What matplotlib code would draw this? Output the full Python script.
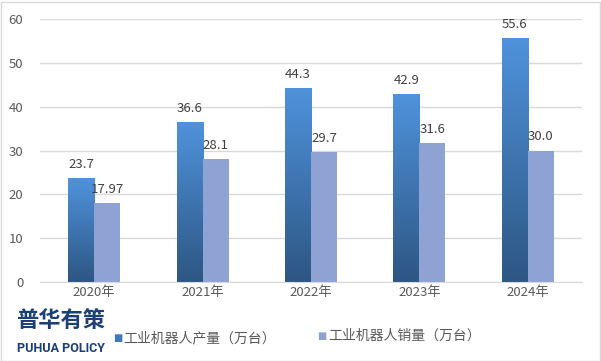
import numpy as np
import matplotlib
matplotlib.use("Agg")
from matplotlib import pyplot as plt
from matplotlib.colors import LinearSegmentedColormap
from matplotlib.patches import Rectangle

plt.rcParams["font.family"] = ["Noto Sans CJK SC", "DejaVu Sans"]

years = ["2020年", "2021年", "2022年", "2023年", "2024年"]
production = [23.7, 36.6, 44.3, 42.9, 55.6]
sales = [17.97, 28.1, 29.7, 31.6, 30.0]
production_labels = ["23.7", "36.6", "44.3", "42.9", "55.6"]
sales_labels = ["17.97", "28.1", "29.7", "31.6", "30.0"]

fig = plt.figure(figsize=(6.01, 3.61), dpi=100)
ax = fig.add_axes([40 / 601, 1 - 282 / 361, 542 / 601, 263 / 361])

width = 0.24
x = np.arange(len(years))
grad = LinearSegmentedColormap.from_list("blue", ["#2d5683", "#4f93dc"])
gradient = np.linspace(0, 1, 256).reshape(-1, 1)

for i, (p, s) in enumerate(zip(production, sales)):
    x0 = x[i] - width
    im = ax.imshow(gradient, cmap=grad, origin="lower", aspect="auto",
                   extent=(x0, x0 + width, 0, p), zorder=2)
    im.set_clip_path(Rectangle((x0, 0), width, p, transform=ax.transData))
    ax.bar(x[i] + width / 2, s, width, color="#8ea3d3", zorder=2)
    ax.text(x[i] - width / 2, p + 1.6, production_labels[i], ha="center",
            va="bottom", fontsize=9.5, color="#404040")
    ax.text(x[i] + width / 2, s + 1.6, sales_labels[i], ha="center",
            va="bottom", fontsize=9.5, color="#404040")

ax.set_xlim(-0.5, len(years) - 0.5)
ax.set_ylim(0, 60)
ax.set_yticks(range(0, 61, 10))
ax.set_xticks(x)
ax.set_xticklabels(years)
ax.tick_params(length=0, labelsize=9.5, colors="#595959")
ax.tick_params(axis="y", pad=12)
ax.tick_params(axis="x", pad=3)
ax.grid(axis="y", color="#d9d9d9", linewidth=1)
ax.set_axisbelow(True)
for side in ["top", "right", "left"]:
    ax.spines[side].set_visible(False)
ax.spines["bottom"].set_color("#d9d9d9")

# legend
fig.text(113 / 601, 1 - 338 / 361, "■", color="#3f78b8", fontsize=7, va="center",
         family=["DejaVu Sans"])
fig.text(123 / 601, 1 - 338 / 361, "工业机器人产量（万台）", fontsize=10, va="center",
         color="#595959")
fig.text(317 / 601, 1 - 336 / 361, "■", color="#8ea3d3", fontsize=7, va="center",
         family=["DejaVu Sans"])
fig.text(328 / 601, 1 - 336 / 361, "工业机器人销量（万台）", fontsize=10, va="center",
         color="#595959")

# logo
fig.text(16 / 601, 1 - 320 / 361, "普华有策", fontsize=16, fontweight="heavy",
         color="#1c3f75", va="center")
fig.text(17 / 601, 1 - 349 / 361, "PUHUA POLICY", fontsize=9, color="#1c3f75",
         va="center", family=["Roboto"], fontweight="bold")

fig.patches.append(Rectangle((0.5 / 601, 0.5 / 361), 599 / 601, 359 / 361,
                             transform=fig.transFigure, fill=False,
                             edgecolor="#d9d9d9", linewidth=1))

fig.savefig("out.png", dpi=100)
